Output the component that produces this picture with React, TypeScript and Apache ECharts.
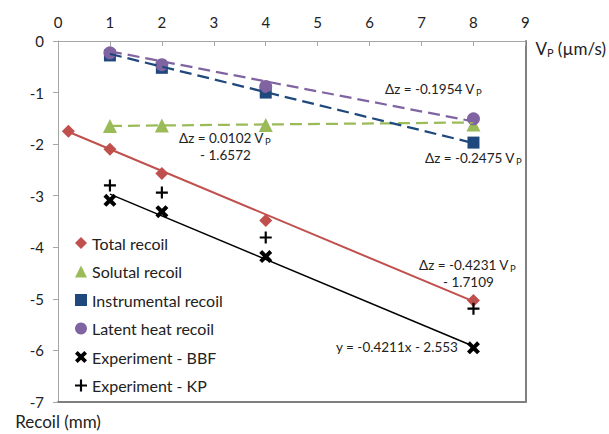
import React, { useEffect, useRef } from "react";
import * as echarts from "echarts";

// ---- data ----
const xTicks = [0, 1, 2, 3, 4, 5, 6, 7, 8, 9];
const yTicks = [0, -1, -2, -3, -4, -5, -6, -7];

const totalX = [0.2, 1, 2, 4, 8];
const totalY = [-1.75, -2.1, -2.57, -3.48, -5.03];
const totalTrendX = [0.2, 8];
const totalTrendY = [-1.76, -5.05];

const vp = [1, 2, 4, 8];
const solutalY = [-1.65, -1.64, -1.63, -1.62];
const solutalTrendY = [-1.647, -1.58];

const instrumentalY = [-0.28, -0.52, -1.0, -1.97];
const instrumentalTrendY = [-0.25, -1.98];

const latentY = [-0.23, -0.46, -0.88, -1.51];
const latentTrendY = [-0.2, -1.56];

const bbfY = [-3.09, -3.31, -4.18, -5.95];
const bbfTrendY = [-2.97, -5.92];

const kpY = [-2.8, -2.94, -3.81, -5.19];

const trendX = [1, 8];

const seriesNames = [
  "Total recoil",
  "Solutal recoil",
  "Instrumental recoil",
  "Latent heat recoil",
  "Experiment - BBF",
  "Experiment - KP",
];

const RED = "#C0504D";
const GREEN = "#9BBB59";
const BLUE = "#1F497D";
const PURPLE = "#8064A2";
const BLACK = "#000000";

const X_PATH =
  "path://M0,2.2 L2.2,0 L5,2.8 L7.8,0 L10,2.2 L7.2,5 L10,7.8 L7.8,10 L5,7.2 L2.2,10 L0,7.8 L2.8,5 Z";
const PLUS_PATH = "path://M4.1,0 H5.9 V4.1 H10 V5.9 H5.9 V10 H4.1 V5.9 H0 V4.1 H4.1 Z";

const FONT = "Lato, 'Open Sans', sans-serif";

const zip = (xs: number[], ys: number[]) => xs.map((x, i) => [x, ys[i]]);

export default function App() {
  const ref = useRef<HTMLDivElement>(null);

  useEffect(() => {
    if (!ref.current) return;
    const chart = echarts.init(ref.current, undefined, { renderer: "svg" });

    const trend = (name: string, ys: number[], xs: number[], color: string, dashed: boolean, width: number) => ({
      name,
      type: "line",
      data: zip(xs, ys),
      symbol: "none",
      silent: true,
      z: 3,
      lineStyle: { color, width, type: dashed ? [12, 6] : "solid" },
    });

    const pts = (name: string, ys: number[], xs: number[], color: string, symbol: string, size: number) => ({
      name,
      type: "scatter",
      data: zip(xs, ys),
      symbol,
      symbolSize: size,
      z: 2,
      itemStyle: { color, opacity: 1 },
    });

    const ann = (text: string, x: number, y: number) => ({
      type: "text",
      x,
      y,
      z: 10,
      style: {
        text,
        fill: "#222",
        verticalAlign: "middle",
        font: `13.5px ${FONT}`,
        rich: {
          t: { fontSize: 13.5, fontFamily: FONT, fill: "#222" },
          s: { fontSize: 9.5, fontFamily: FONT, fill: "#222", padding: [6, 0, 0, 1] },
        },
      },
    });

    chart.setOption({
      animation: false,
      backgroundColor: "#ffffff",
      textStyle: { fontFamily: FONT },
      grid: { left: 58, top: 41, right: 83, bottom: 32, containLabel: false },
      legend: {
        orient: "vertical",
        left: 70,
        top: 230,
        itemWidth: 12,
        itemHeight: 12,
        itemGap: 12.5,
        textStyle: { fontSize: 16, color: "#222", fontFamily: FONT },
        data: [
          { name: seriesNames[0], icon: "diamond" },
          { name: seriesNames[1], icon: "triangle" },
          { name: seriesNames[2], icon: "rect" },
          { name: seriesNames[3], icon: "circle" },
          { name: seriesNames[4], icon: X_PATH },
          { name: seriesNames[5], icon: PLUS_PATH },
        ],
      },
      xAxis: [
        {
          type: "value",
          position: "top",
          min: xTicks[0],
          max: xTicks[xTicks.length - 1],
          interval: 1,
          name: "{v|V}{s|P}{v| (µm/s)}",
          nameLocation: "end",
          nameGap: 10,
          nameTextStyle: {
            padding: [14, 0, 0, 0],
            rich: {
              v: { fontSize: 17, fontFamily: FONT, color: "#222" },
              s: { fontSize: 11, fontFamily: FONT, color: "#222", padding: [8, 0, 0, 0] },
            },
          },
          axisLine: { show: true, onZero: false, lineStyle: { color: "#A6A6A6", width: 1 } },
          axisTick: { show: true, inside: true, length: 5, lineStyle: { color: "#A6A6A6" } },
          axisLabel: { fontSize: 15, color: "#222", margin: 12, fontFamily: FONT },
          splitLine: { show: false },
        },
        {
          type: "value",
          position: "bottom",
          min: xTicks[0],
          max: xTicks[xTicks.length - 1],
          interval: 1,
          axisLine: { show: true, onZero: false, lineStyle: { color: "#7F7F7F", width: 2 } },
          axisTick: { show: false },
          axisLabel: { show: false },
          splitLine: { show: false },
        },
      ],
      yAxis: [
        {
          type: "value",
          position: "left",
          min: yTicks[yTicks.length - 1],
          max: yTicks[0],
          interval: 1,
          name: "Recoil (mm)",
          nameLocation: "start",
          nameGap: 11,
          nameTextStyle: { fontSize: 17, color: "#222", fontFamily: FONT, align: "center" },
          axisLine: { show: true, onZero: false, lineStyle: { color: "#A6A6A6", width: 1 } },
          axisTick: { show: true, inside: false, length: 5, lineStyle: { color: "#A6A6A6" } },
          axisLabel: { fontSize: 15, color: "#222", margin: 14, fontFamily: FONT },
          splitLine: { show: false },
        },
        {
          type: "value",
          position: "right",
          min: yTicks[yTicks.length - 1],
          max: yTicks[0],
          interval: 1,
          axisLine: { show: true, onZero: false, lineStyle: { color: "#7F7F7F", width: 2 } },
          axisTick: { show: false },
          axisLabel: { show: false },
          splitLine: { show: false },
        },
      ],
      series: [
        pts(seriesNames[0], totalY, totalX, RED, "diamond", 13),
        pts(seriesNames[1], solutalY, vp, GREEN, "triangle", 14),
        pts(seriesNames[2], instrumentalY, vp, BLUE, "rect", 12),
        pts(seriesNames[3], latentY, vp, PURPLE, "circle", 13),
        pts(seriesNames[4], bbfY, vp, BLACK, X_PATH, 13),
        pts(seriesNames[5], kpY, vp, BLACK, PLUS_PATH, 12),
        trend("trend-total", totalTrendY, totalTrendX, RED, false, 2),
        trend("trend-solutal", solutalTrendY, trendX, GREEN, true, 2.25),
        trend("trend-instrumental", instrumentalTrendY, trendX, BLUE, true, 2.25),
        trend("trend-latent", latentTrendY, trendX, PURPLE, true, 2.25),
        trend("trend-bbf", bbfTrendY, trendX, BLACK, false, 1.5),
      ],
      graphic: [
        ann("{t|Δz = -0.1954 V}{s|P}", 385, 89),
        ann("{t|Δz = -0.2475 V}{s|P}", 425, 158),
        ann("{t|Δz = 0.0102 V}{s|P}", 179, 138),
        ann("{t|- 1.6572}", 200, 155),
        ann("{t|Δz = -0.4231 V}{s|P}", 419, 265),
        ann("{t|- 1.7109}", 443, 282),
        ann("{t|y = -0.4211x - 2.553}", 336, 347),
      ],
    });

    return () => chart.dispose();
  }, []);

  return (
    <div
      ref={ref}
      style={{ position: "absolute", left: 0, top: 0, width: 609, height: 434, background: "#fff" }}
    />
  );
}
